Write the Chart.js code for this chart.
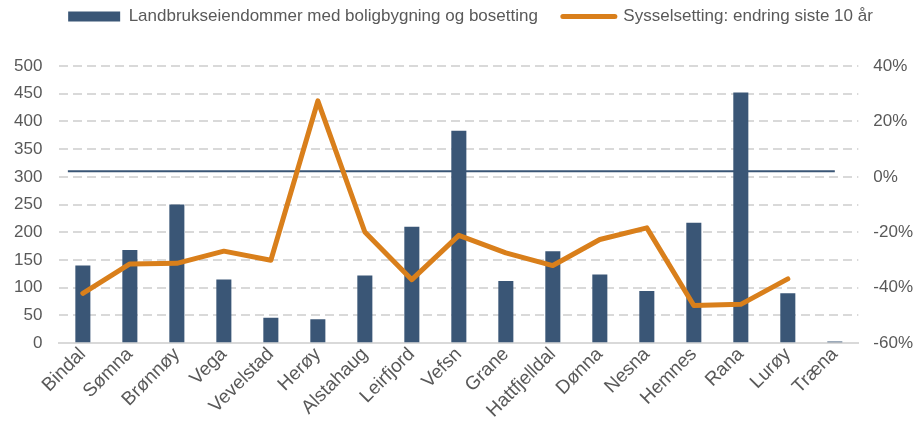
<!DOCTYPE html>
<html>
<head>
<meta charset="utf-8">
<script src="https://cdn.jsdelivr.net/npm/chart.js@4"></script>
<style>
  html, body { margin: 0; padding: 0; background: #fff; }
  #wrap { width: 914px; height: 425px; }
</style>
</head>
<body>
<div id="wrap"><canvas id="chart"></canvas></div>
<script>
// Kommuner (x-akse)
const kommuner = ['Bindal', 'Sømna', 'Brønnøy', 'Vega', 'Vevelstad', 'Herøy', 'Alstahaug', 'Leirfjord',
    'Vefsn', 'Grane', 'Hattfjelldal', 'Dønna', 'Nesna', 'Hemnes', 'Rana', 'Lurøy', 'Træna'];

// Antall landbrukseiendommer (venstre akse)
const eiendommer = [140, 168, 250, 115, 46, 43, 122, 210, 383, 112, 166, 124, 94, 217, 452, 90, 3];

// Sysselsetting, endring siste 10 år i % (høyre akse) - ingen verdi for Træna
const sysselsetting = [-42, -31.4, -31.2, -26.8, -30.1, 27.4, -19.9, -37.1, -21.1, -27.4, -32, -22.6, -18.4, -46.4, -46, -36.8, null];

// Referanselinje (høyre akse)
const referanse = 2;

const labelsLeft = { min: 0, max: 500, step: 50 };
const labelsRight = { min: -60, max: 40, step: 20 };

const BLUE = '#3A5676';
const ORANGE = '#D97F1B';
const TEXT = '#595959';
const GRID = '#D9D9D9';
const FONT = "'Liberation Sans', Arial, sans-serif";

// tynn horisontal linje på referansenivået, tegnes bak søylene
const refLinePlugin = {
    id: 'refLine',
    beforeDatasetsDraw(chart) {
        const { ctx, scales } = chart;
        const y = scales.y1.getPixelForValue(referanse);
        const x0 = scales.x.getPixelForValue(0) - 15;
        const x1 = scales.x.getPixelForValue(kommuner.length - 1);
        ctx.save();
        ctx.strokeStyle = BLUE;
        ctx.lineWidth = 2;
        ctx.beginPath();
        ctx.moveTo(x0, y);
        ctx.lineTo(x1, y);
        ctx.stroke();
        ctx.restore();
    }
};

// flytt legenden opp (Excel-plassering)
const legendShift = {
    id: 'legendShift',
    afterLayout(chart) {
        chart.legend.top -= 31;
        chart.legend.bottom -= 31;
        chart.legend.left += 8;
        chart.legend.right += 8;
    }
};

new Chart(document.getElementById('chart'), {
    data: {
        labels: kommuner,
        datasets: [
            {
                type: 'bar',
                label: 'Landbrukseiendommer med boligbygning og bosetting',
                data: eiendommer,
                backgroundColor: BLUE,
                borderWidth: 0,
                barPercentage: 0.8,
                categoryPercentage: 0.4,
                yAxisID: 'y',
                order: 2
            },
            {
                type: 'line',
                label: 'Sysselsetting: endring siste 10 år',
                data: sysselsetting,
                borderColor: ORANGE,
                backgroundColor: ORANGE,
                borderWidth: 5,
                borderCapStyle: 'round',
                borderJoinStyle: 'round',
                pointRadius: 0,
                tension: 0,
                spanGaps: false,
                yAxisID: 'y1',
                order: 1
            }
        ]
    },
    options: {
        responsive: true,
        maintainAspectRatio: false,
        animation: false,
        layout: { padding: { left: -3, right: -14, top: 14, bottom: 3 } },
        plugins: {
            tooltip: { enabled: false },
            legend: {
                position: 'top',
                align: 'center',
                labels: {
                    usePointStyle: true,
                    pointStyleWidth: 52,
                    boxHeight: 10,
                    padding: 25,
                    color: TEXT,
                    font: { family: FONT, size: 17 },
                    generateLabels: (chart) => chart.data.datasets.map((ds, i) => ({
                        text: ds.label,
                        datasetIndex: i,
                        fillStyle: i === 0 ? BLUE : ORANGE,
                        strokeStyle: i === 0 ? BLUE : ORANGE,
                        lineWidth: i === 0 ? 0 : 5,
                        lineCap: 'round',
                        pointStyle: i === 0 ? 'rect' : 'line',
                        fontColor: TEXT,
                        hidden: false
                    }))
                }
            }
        },
        scales: {
            x: {
                grid: { display: false, drawTicks: false },
                border: { display: true, color: GRID, width: 2 },
                ticks: {
                    color: TEXT,
                    font: { family: FONT, size: 19 },
                    minRotation: 45,
                    maxRotation: 45,
                    padding: 0
                },
                // skrå etiketter skal ikke presse plottet innover
                afterFit(scale) {
                    scale.paddingLeft = 0;
                    scale.paddingRight = 0;
                }
            },
            y: {
                position: 'left',
                min: labelsLeft.min,
                max: labelsLeft.max,
                grid: { color: GRID, lineWidth: 2, drawTicks: false },
                border: { display: false, dash: [9, 5] },
                ticks: {
                    stepSize: labelsLeft.step,
                    color: TEXT,
                    font: { family: FONT, size: 17 },
                    padding: 17
                }
            },
            y1: {
                position: 'right',
                min: labelsRight.min,
                max: labelsRight.max,
                grid: { display: false, drawTicks: false },
                border: { display: false },
                ticks: {
                    stepSize: labelsRight.step,
                    color: TEXT,
                    font: { family: FONT, size: 17 },
                    padding: 15,
                    callback: (v) => v + '%'
                }
            }
        }
    },
    plugins: [refLinePlugin, legendShift]
});
</script>
</body>
</html>
